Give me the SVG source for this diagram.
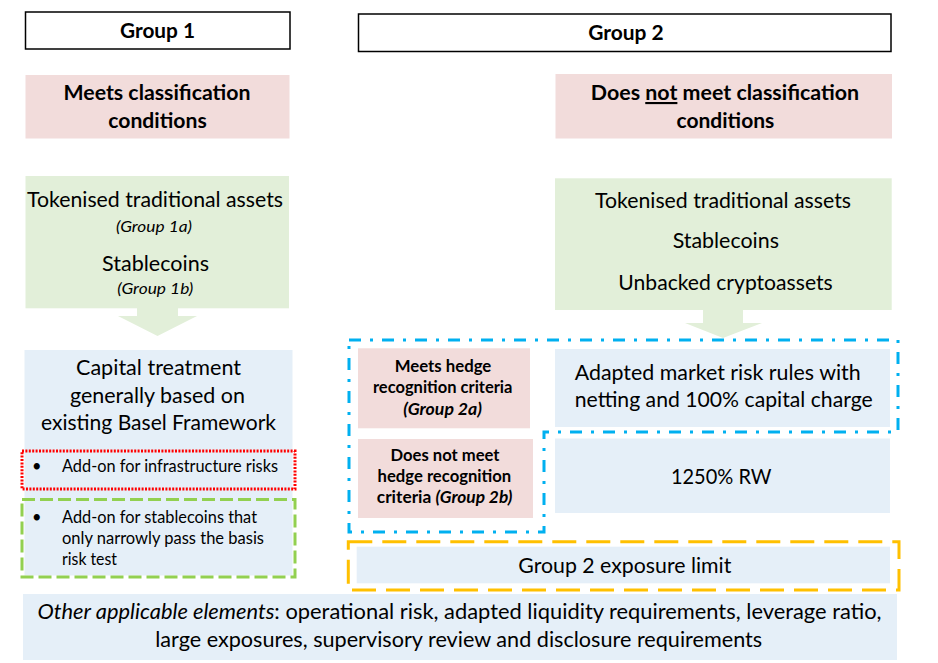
<svg xmlns="http://www.w3.org/2000/svg" width="938" height="663" viewBox="0 0 938 663">
<style>
  text { font-family: Lato, "Liberation Sans", "DejaVu Sans", sans-serif; fill: #000; }
  .hdr { fill: #fff; stroke: #000; stroke-width: 1.5; }
  .pink { fill: #F2DCDB; }
  .green { fill: #E2EFD9; }
  .blue { fill: #E5EFF8; }
  .b { font-weight: bold; }
  .i { font-style: italic; }
  .c { text-anchor: middle; }
  .big { font-size: 21.2px; }
  .mid { font-size: 16.4px; }
  .sm { font-size: 16.2px; }
  .dashdot { fill: none; stroke: #00B0F0; stroke-width: 3; stroke-dasharray: 12 9 3 9; }
  .orange { fill: none; stroke: #FFC000; stroke-width: 3; stroke-dasharray: 24 10; }
  .reddot { fill: none; stroke: #FF0000; stroke-width: 3; stroke-dasharray: 2 1.4; }
  .greendash { fill: none; stroke: #92D050; stroke-width: 3; stroke-dasharray: 13 5; }
</style>
<rect width="938" height="663" fill="#fff"/>

<g id="group1-header">
  <rect class="hdr" x="25.5" y="12" width="264.5" height="37"/>
  <text class="b c big" x="157.5" y="37.5" textLength="75" lengthAdjust="spacingAndGlyphs">Group 1</text>
</g>
<g id="group2-header">
  <rect class="hdr" x="358.5" y="14" width="532.5" height="37.5"/>
  <text class="b c big" x="626" y="39.5" textLength="75.5" lengthAdjust="spacingAndGlyphs">Group 2</text>
</g>

<g id="meets-classification">
  <rect class="pink" x="25.5" y="75" width="264" height="63.5"/>
  <text class="b c big" x="157" y="100" textLength="187" lengthAdjust="spacingAndGlyphs">Meets classification</text>
  <text class="b c big" x="157.5" y="128" textLength="98.4" lengthAdjust="spacingAndGlyphs">conditions</text>
</g>
<g id="not-meets-classification">
  <rect class="pink" x="555.5" y="74" width="336.5" height="64.5"/>
  <text class="b c big" x="725" y="100" textLength="268.4" lengthAdjust="spacingAndGlyphs">Does <tspan style="text-decoration:underline">not</tspan> meet classification</text>
  <text class="b c big" x="725.4" y="128" textLength="97.8" lengthAdjust="spacingAndGlyphs">conditions</text>
</g>

<g id="group1-assets">
  <rect class="green" x="25.5" y="176" width="263.5" height="132.3"/>
  <text class="c big" x="155" y="207" textLength="256" lengthAdjust="spacingAndGlyphs">Tokenised traditional assets</text>
  <text class="c i sm" x="154" y="231.5" textLength="76" lengthAdjust="spacingAndGlyphs">(Group 1a)</text>
  <text class="c big" x="155.5" y="270.7" textLength="107" lengthAdjust="spacingAndGlyphs">Stablecoins</text>
  <text class="c i sm" x="155.3" y="294" textLength="76" lengthAdjust="spacingAndGlyphs">(Group 1b)</text>
</g>
<g id="group2-assets">
  <rect class="green" x="555" y="178.3" width="336.7" height="131.7"/>
  <text class="c big" x="723" y="208.3" textLength="256" lengthAdjust="spacingAndGlyphs">Tokenised traditional assets</text>
  <text class="c big" x="725.8" y="248.3" textLength="106.3" lengthAdjust="spacingAndGlyphs">Stablecoins</text>
  <text class="c big" x="725.5" y="290" textLength="214.4" lengthAdjust="spacingAndGlyphs">Unbacked cryptoassets</text>
</g>

<g id="group1-capital">
  <rect class="blue" x="24.5" y="350" width="268" height="225.5"/>
  <text class="c big" x="158.5" y="375" textLength="165" lengthAdjust="spacingAndGlyphs">Capital treatment</text>
  <text class="c big" x="157.5" y="402.5" textLength="175" lengthAdjust="spacingAndGlyphs">generally based on</text>
  <text class="c big" x="158.5" y="430" textLength="235" lengthAdjust="spacingAndGlyphs">existing Basel Framework</text>
</g>
<g id="infrastructure-addon">
  <rect class="reddot" x="22" y="451" width="273" height="38"/>
  <text class="mid" x="32" y="472.3">•</text>
  <text class="mid" x="62" y="472.3" textLength="216" lengthAdjust="spacingAndGlyphs">Add-on for infrastructure risks</text>
</g>
<g id="stablecoin-addon">
  <rect class="greendash" x="22" y="499.5" width="273" height="77.5"/>
  <text class="mid" x="32" y="522.7">•</text>
  <text class="mid" x="62" y="522.7" textLength="195" lengthAdjust="spacingAndGlyphs">Add-on for stablecoins that</text>
  <text class="mid" x="62" y="543.5" textLength="202" lengthAdjust="spacingAndGlyphs">only narrowly pass the basis</text>
  <text class="mid" x="62" y="565" textLength="55" lengthAdjust="spacingAndGlyphs">risk test</text>
</g>

<g id="group2a">
  <rect class="pink" x="358" y="348.3" width="172" height="80"/>
  <text class="b c mid" x="443" y="371.7" textLength="96.7" lengthAdjust="spacingAndGlyphs">Meets hedge</text>
  <text class="b c mid" x="442.7" y="393.3" textLength="139.5" lengthAdjust="spacingAndGlyphs">recognition criteria</text>
  <text class="b i c mid" x="442.7" y="415" textLength="78.7" lengthAdjust="spacingAndGlyphs">(Group 2a)</text>
</g>
<g id="group2b">
  <rect class="pink" x="358" y="439" width="175" height="79"/>
  <text class="b c mid" x="445" y="461" textLength="109" lengthAdjust="spacingAndGlyphs">Does not meet</text>
  <text class="b c mid" x="444.4" y="482" textLength="133.7" lengthAdjust="spacingAndGlyphs">hedge recognition</text>
  <text class="b c mid" x="444.6" y="503" textLength="135.6" lengthAdjust="spacingAndGlyphs">criteria <tspan class="i">(Group 2b)</tspan></text>
</g>
<g id="market-risk-rules">
  <rect class="blue" x="555" y="349" width="335" height="78"/>
  <text class="big" x="574.7" y="380" textLength="286" lengthAdjust="spacingAndGlyphs">Adapted market risk rules with</text>
  <text class="big" x="574.7" y="407" textLength="298" lengthAdjust="spacingAndGlyphs">netting and 100% capital charge</text>
</g>
<g id="rw-1250">
  <rect class="blue" x="555" y="438.5" width="335" height="74.5"/>
  <text class="c big" x="721.2" y="484" textLength="100.5" lengthAdjust="spacingAndGlyphs">1250% RW</text>
</g>
<g id="exposure-limit">
  <rect class="blue" x="356.7" y="546.7" width="533.3" height="36.6"/>
  <text class="c big" x="624.8" y="573" textLength="213" lengthAdjust="spacingAndGlyphs">Group 2 exposure limit</text>
</g>
<g id="other-elements">
  <rect class="blue" x="23" y="594" width="874" height="66"/>
  <text class="c big" x="459.5" y="619.3" textLength="844" lengthAdjust="spacingAndGlyphs"><tspan class="i">Other applicable elements</tspan>: operational risk, adapted liquidity requirements, leverage ratio,</text>
  <text class="c big" x="458.7" y="646.7" textLength="607" lengthAdjust="spacingAndGlyphs">large exposures, supervisory review and disclosure requirements</text>
</g>

<g id="connectors">
  <polygon class="green" points="137,308 178,308 178,316 197,316 157.5,336 118,316 137,316"/>
  <polygon class="green" points="703,310 743,310 743,323 762,323 723,338 685,323 703,323"/>
  <path class="dashdot" d="M349,340 H898 V432 H544 V532 H349 Z"/>
  <rect class="orange" x="348.3" y="541.7" width="550.7" height="48.3"/>
</g>
</svg>
